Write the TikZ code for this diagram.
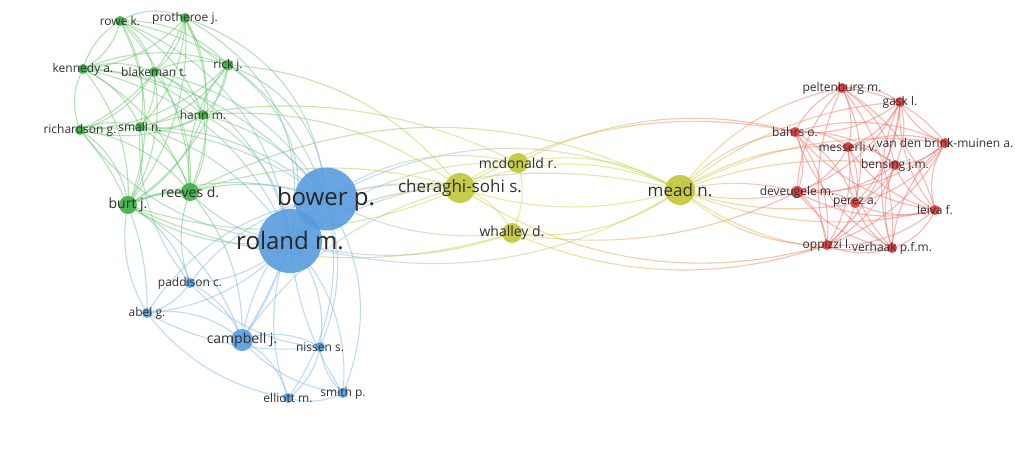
\documentclass[tikz,border=0pt]{standalone}
\usepackage{fontspec}
\setmainfont{Open Sans}
\usetikzlibrary{calc}
\pgfdeclarelayer{paper}
\pgfdeclarelayer{edges}
\pgfsetlayers{paper,edges,main}

% cluster colours: nodes and links
\definecolor{ng}{RGB}{60,176,68}
\definecolor{nb}{RGB}{88,156,222}
\definecolor{ny}{RGB}{194,198,56}
\definecolor{nr}{RGB}{222,56,56}
\definecolor{eg}{RGB}{105,200,105}
\definecolor{eb}{RGB}{130,182,238}
\definecolor{ey}{RGB}{208,214,70}
\definecolor{er}{RGB}{246,112,104}
\definecolor{txt}{RGB}{48,48,48}

\tikzset{
  vnode/.style={circle, inner sep=0pt, draw=none, fill opacity=0.9},
  lbl/.style={text=txt, inner sep=0pt},
  link/.style={opacity=0.5},
}
\def\bendscale{1.3}

% a network node: name, x, y, diameter, fill, link colour
\newcommand\vnode[6]{%
  \colorlet{col#1}{#6}%
  \node[vnode, fill=#5, minimum size=#4pt] (#1) at (#2,#3) {};%
}
% one piece of a link: start, quadratic control, end, colour
\newcommand\lnkseg[4]{%
  \draw[link, line width=\lnkw, #4] (#1) .. controls ($(#1)!2/3!(#2)$) and ($(#3)!2/3!(#2)$) .. (#3);%
}
% curved link whose colour runs from one node's colour to the other's
\newcommand\lnk[4][1.1pt]{%
  \def\lnkw{#1}%
  \path ($(#2.center)!0.5!(#3.center)$) coordinate (lkM);
  \path ($(lkM)!#4*\bendscale!90:(#3.center)$) coordinate (lkQ);
  \path ($0.5625*(#2.center)+0.375*(lkQ)+0.0625*(#3.center)$) coordinate (lkP1)
        ($0.25*(#2.center)+0.5*(lkQ)+0.25*(#3.center)$) coordinate (lkP2)
        ($0.0625*(#2.center)+0.375*(lkQ)+0.5625*(#3.center)$) coordinate (lkP3)
        ($0.75*(#2.center)+0.25*(lkQ)$) coordinate (lkQ1)
        ($0.375*(#2.center)+0.5*(lkQ)+0.125*(#3.center)$) coordinate (lkQ2)
        ($0.125*(#2.center)+0.5*(lkQ)+0.375*(#3.center)$) coordinate (lkQ3)
        ($0.25*(lkQ)+0.75*(#3.center)$) coordinate (lkQ4);
  \lnkseg{#2.center}{lkQ1}{lkP1}{col#2!88!col#3}
  \lnkseg{lkP1}{lkQ2}{lkP2}{col#2!63!col#3}
  \lnkseg{lkP2}{lkQ3}{lkP3}{col#2!37!col#3}
  \lnkseg{lkP3}{lkQ4}{#3.center}{col#2!12!col#3}
}
\newcommand\fs[1]{\fontsize{#1}{#1}\selectfont}

\begin{document}
\begin{tikzpicture}[x=1pt, y=-1pt]
\begin{pgfonlayer}{paper}
\fill[white] (0,0) rectangle (1015,455);
\end{pgfonlayer}
\useasboundingbox (0,0) rectangle (1015,455);

% ---- nodes ----
\vnode{rowe}{120}{21}{10}{ng}{eg}
\vnode{prot}{185}{18}{10}{ng}{eg}
\vnode{kenn}{83}{69}{10}{ng}{eg}
\vnode{blak}{154}{72}{10}{ng}{eg}
\vnode{rick}{228}{65}{11}{ng}{eg}
\vnode{hann}{203}{115}{10}{ng}{eg}
\vnode{rich}{80}{130}{10}{ng}{eg}
\vnode{small}{140}{127}{10}{ng}{eg}
\vnode{burt}{128}{205}{18}{ng}{eg}
\vnode{reeves}{190}{192}{18}{ng}{eg}
\vnode{roland}{290}{241}{64}{nb}{eb}
\vnode{bower}{326}{199}{63}{nb}{eb}
\vnode{padd}{190}{283}{10}{nb}{eb}
\vnode{abel}{147}{313}{10}{nb}{eb}
\vnode{camp}{242}{340}{22}{nb}{eb}
\vnode{nissen}{320}{347}{10}{nb}{eb}
\vnode{elliott}{288}{398}{10}{nb}{eb}
\vnode{smith}{343}{393}{10}{nb}{eb}
\vnode{cher}{460}{188}{30}{ny}{ey}
\vnode{mcd}{518}{163}{20}{ny}{ey}
\vnode{whal}{512}{233}{20}{ny}{ey}
\vnode{mead}{680}{190}{30}{ny}{ey}
\vnode{pelt}{842}{88}{10}{nr}{er}
\vnode{gask}{900}{102}{10}{nr}{er}
\vnode{bahrs}{795}{132}{10}{nr}{er}
\vnode{mess}{848}{147}{10}{nr}{er}
\vnode{vdb}{945}{143}{10}{nr}{er}
\vnode{bens}{895}{165}{10}{nr}{er}
\vnode{deve}{797}{192}{12}{nr}{er}
\vnode{perez}{855}{203}{10}{nr}{er}
\vnode{leiva}{935}{210}{10}{nr}{er}
\vnode{opp}{827}{245}{10}{nr}{er}
\vnode{verh}{892}{248}{10}{nr}{er}

% ---- links ----
\begin{pgfonlayer}{edges}
% green cluster
\foreach \a/\b/\k in {
  rowe/prot/0.4, rowe/kenn/0.35, rowe/blak/0.3, rowe/rick/0.35, rowe/hann/0.3,
  kenn/rowe/0.3, rowe/small/0.3, rowe/burt/0.35, rowe/reeves/0.3,
  prot/kenn/0.3, prot/blak/0.3, prot/rick/-0.35, prot/hann/0.3, prot/rich/0.3,
  prot/small/0.3, prot/burt/0.3, prot/reeves/0.35,
  kenn/blak/0.3, kenn/rick/0.3, kenn/hann/0.3, rich/kenn/0.35, kenn/small/0.3,
  kenn/burt/0.3, kenn/reeves/0.3,
  blak/rick/0.3, blak/hann/0.3, blak/rich/0.3, blak/small/0.3, blak/burt/0.3,
  blak/reeves/0.3,
  rick/hann/0.3, rick/rich/0.3, rick/small/0.3, rick/burt/0.3, rick/reeves/-0.35,
  hann/rich/0.3, hann/small/0.3, hann/burt/0.3, hann/reeves/0.3,
  rich/small/0.3, rich/burt/0.35, rich/reeves/0.3,
  small/burt/0.3, small/reeves/0.3}
  {\lnk{\a}{\b}{\k}}
\lnk[2.4pt]{burt}{reeves}{0.2}
% green to blue
\foreach \a/\b/\k in {
  rowe/bower/0.45, prot/bower/0.5, kenn/bower/0.35, blak/bower/0.35,
  rick/bower/0.5, hann/bower/0.3, rich/bower/0.3, small/bower/0.3,
  burt/bower/0.3, reeves/bower/0.25,
  rowe/roland/0.45, prot/roland/0.55, kenn/roland/0.4, blak/roland/0.4,
  rick/roland/0.55, hann/roland/0.4, rich/roland/-0.35, small/roland/0.3,
  burt/roland/-0.3, reeves/roland/-0.3,
  burt/padd/0.3, abel/burt/0.3, reeves/padd/-0.3, reeves/camp/0.3,
  rich/abel/0.3, burt/camp/0.3, small/padd/-0.3}
  {\lnk{\a}{\b}{\k}}
% green to yellow
\foreach \a/\b/\k in {
  rick/cher/0.35, hann/cher/0.3, reeves/cher/0.25, burt/cher/-0.3,
  small/mcd/0.3, reeves/mead/0.4, burt/whal/-0.3}
  {\lnk{\a}{\b}{\k}}
% blue cluster
\lnk[2.6pt]{bower}{roland}{0.1}
\lnk[2pt]{roland}{camp}{0.1}
\foreach \a/\b/\k in {
  bower/padd/-0.3, bower/abel/-0.35, bower/camp/-0.3, bower/nissen/0.3,
  bower/elliott/0.35, bower/smith/0.4,
  roland/padd/0.3, roland/abel/0.3, roland/nissen/0.35,
  roland/elliott/-0.3, roland/smith/0.35, smith/roland/0.2,
  padd/abel/0.3, padd/camp/0.3, abel/camp/0.35, abel/nissen/-0.25,
  padd/nissen/-0.3, camp/nissen/0.35, camp/elliott/0.35, camp/smith/-0.3,
  nissen/elliott/0.3, nissen/smith/-0.3, elliott/smith/-0.3, abel/elliott/-0.3}
  {\lnk{\a}{\b}{\k}}
% blue to yellow
\lnk[1.8pt]{bower}{cher}{0.2}
\lnk[1.6pt]{roland}{cher}{0.25}
\foreach \a/\b/\k in {
  bower/mcd/0.35, bower/whal/-0.25, bower/mead/0.4, roland/mcd/0.3,
  whal/roland/0.25, mead/roland/0.35, camp/cher/0.3, roland/mead/0.3}
  {\lnk{\a}{\b}{\k}}
% yellow cluster
\foreach \a/\b/\k in {
  cher/mcd/0.3, whal/cher/-0.35, mcd/whal/0.3, cher/mead/0.35, mead/cher/0.25,
  mcd/mead/0.3, mead/whal/0.3}
  {\lnk{\a}{\b}{\k}}
% yellow to red
\foreach \a/\b/\k in {
  mead/pelt/0.3, mead/gask/0.25, mead/bahrs/0.3, mead/mess/0.25, mead/vdb/0.25,
  mead/bens/0.2, mead/deve/0.2, deve/mead/0.2, mead/perez/-0.2, mead/leiva/-0.25,
  mead/opp/-0.3, mead/verh/-0.3,
  cher/bahrs/0.3, mcd/bahrs/0.3, whal/deve/-0.25, whal/opp/-0.3, cher/opp/-0.35}
  {\lnk{\a}{\b}{\k}}
% red cluster
\foreach \a/\b/\k in {
  pelt/gask/0.3, pelt/bahrs/-0.3, pelt/mess/0.3, pelt/vdb/0.35, pelt/bens/0.3,
  pelt/deve/-0.3, pelt/perez/0.3, pelt/leiva/0.3, pelt/opp/-0.3, pelt/verh/0.3,
  gask/bahrs/0.3, gask/mess/0.3, gask/vdb/-0.3, gask/bens/0.3, gask/deve/0.3,
  gask/perez/0.3, gask/leiva/-0.3, gask/opp/0.3, gask/verh/-0.3,
  bahrs/mess/0.3, bahrs/vdb/0.3, bahrs/bens/0.3, bahrs/deve/0.35, bahrs/perez/0.3,
  bahrs/leiva/-0.3, bahrs/opp/0.3, bahrs/verh/-0.3,
  mess/vdb/0.3, mess/bens/0.3, mess/deve/0.3, mess/perez/0.3, mess/leiva/-0.3,
  mess/opp/0.3, mess/verh/-0.3,
  vdb/bens/0.3, vdb/deve/0.3, vdb/perez/0.3, vdb/leiva/-0.35, vdb/opp/0.3,
  vdb/verh/-0.3,
  bens/deve/0.3, bens/perez/0.3, bens/leiva/-0.3, bens/opp/0.3, bens/verh/-0.3,
  deve/perez/0.3, deve/leiva/-0.3, deve/opp/0.35, deve/verh/-0.3,
  perez/leiva/-0.3, perez/opp/0.3, perez/verh/-0.3,
  leiva/opp/0.3, leiva/verh/0.35, opp/verh/-0.3}
  {\lnk{\a}{\b}{\k}}
\end{pgfonlayer}

% ---- labels ----
\node[lbl, font=\fs{12}] (rowe-l) at (rowe) {rowe k.};
\node[lbl, font=\fs{12}] (prot-l) at (prot) {protheroe j.};
\node[lbl, font=\fs{12}] (kenn-l) at (kenn) {kennedy a.};
\node[lbl, font=\fs{12}] (blak-l) at (blak) {blakeman t.};
\node[lbl, font=\fs{12}] (rick-l) at (rick) {rick j.};
\node[lbl, font=\fs{12}] (hann-l) at (hann) {hann m.};
\node[lbl, font=\fs{12}] (rich-l) at (rich) {richardson g.};
\node[lbl, font=\fs{12}] (small-l) at (small) {small n.};
\node[lbl, font=\fs{14}] (burt-l) at (burt) {burt j.};
\node[lbl, font=\fs{14}] (reeves-l) at (reeves) {reeves d.};
\node[lbl, font=\fs{24}, text=black!85] (bower-l) at (bower) {bower p.};
\node[lbl, font=\fs{24}, text=black!85] (roland-l) at (roland) {roland m.};
\node[lbl, font=\fs{12}] (padd-l) at (padd) {paddison c.};
\node[lbl, font=\fs{12}] (abel-l) at (abel) {abel g.};
\node[lbl, font=\fs{14}] (camp-l) at (camp) {campbell j.};
\node[lbl, font=\fs{12}] (nissen-l) at (nissen) {nissen s.};
\node[lbl, font=\fs{12}] (elliott-l) at (elliott) {elliott m.};
\node[lbl, font=\fs{12}] (smith-l) at (smith) {smith p.};
\node[lbl, font=\fs{17}] (cher-l) at (cher) {cheraghi-sohi s.};
\node[lbl, font=\fs{14}] (mcd-l) at (mcd) {mcdonald r.};
\node[lbl, font=\fs{14}] (whal-l) at (whal) {whalley d.};
\node[lbl, font=\fs{17}] (mead-l) at (mead) {mead n.};
\node[lbl, font=\fs{12}] (pelt-l) at (pelt) {peltenburg m.};
\node[lbl, font=\fs{12}] (gask-l) at (gask) {gask l.};
\node[lbl, font=\fs{12}] (bahrs-l) at (bahrs) {bahrs o.};
\node[lbl, font=\fs{12}] (mess-l) at (mess) {messerli v.};
\node[lbl, font=\fs{12}] (vdb-l) at (vdb) {van den brink-muinen a.};
\node[lbl, font=\fs{12}] (bens-l) at (bens) {bensing j.m.};
\node[lbl, font=\fs{12}] (deve-l) at (deve) {deveugele m.};
\node[lbl, font=\fs{12}] (perez-l) at (perez) {perez a.};
\node[lbl, font=\fs{12}] (leiva-l) at (leiva) {leiva f.};
\node[lbl, font=\fs{12}] (opp-l) at (opp) {oppizzi l.};
\node[lbl, font=\fs{12}] (verh-l) at (verh) {verhaak p.f.m.};
\end{tikzpicture}
\end{document}
